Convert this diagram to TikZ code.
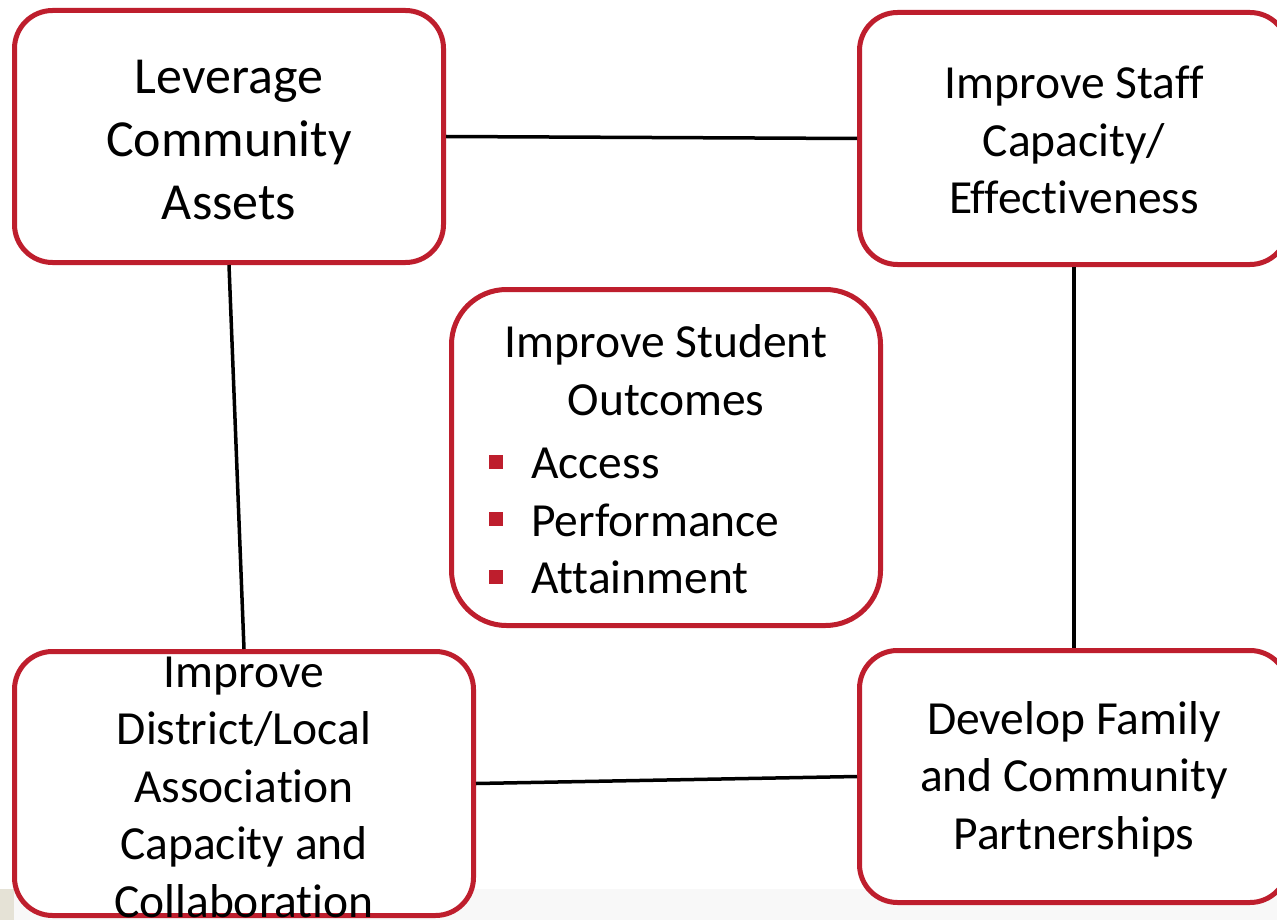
\documentclass[tikz,border=0pt]{standalone}
\usepackage{fontspec}
\setmainfont[Ligatures={NoCommon,NoDiscretionary,NoContextual}]{Carlito}
\definecolor{bred}{RGB}{190,30,45}
\definecolor{bandgrey}{RGB}{248,248,248}
\definecolor{bandbeige}{RGB}{229,226,214}
\tikzset{
  goalbox/.style={draw=bred, line width=5pt, fill=white, rounded corners=38pt, inner sep=0pt},
  bigtext/.style={align=center, inner sep=0pt, font=\fontsize{52}{63}\selectfont},
  midtext/.style={align=center, inner sep=0pt, font=\fontsize{47.5}{57.5}\selectfont},
  link/.style={draw=black, line width=3.5pt},
}
\newcommand{\redsq}{\makebox[42pt][l]{\raisebox{10pt}{\textcolor{bred}{\rule{14pt}{14pt}}}}}
\begin{document}
\begin{tikzpicture}[x=1pt,y=-1pt]
\useasboundingbox (0,0) rectangle (1277,920);
\clip (0,0) rectangle (1277,920);
\fill[white] (0,0) rectangle (1277,920);
\fill[bandgrey] (0,889) rectangle (1277,920);
\fill[bandbeige] (0,889) rectangle (14,920);

% boxes
\node[goalbox, minimum width=429pt, minimum height=252pt] (tl) at (229,136.5) {};
\node[goalbox, minimum width=428.5pt, minimum height=252pt] (tr) at (1073.75,138.5) {};
\node[goalbox, rounded corners=55pt, minimum width=429pt, minimum height=336pt] (ctr) at (666,457.5) {};
\node[goalbox, minimum width=459pt, minimum height=264pt] (bl) at (244,783.5) {};
\node[goalbox, minimum width=428.5pt, minimum height=252pt] (br) at (1073.75,776.5) {};

% connectors
\draw[link] (tl.east) -- (tr.west);
\draw[link] (tl.south) -- (bl.north);
\draw[link] (tr.south) -- (br.north);
\draw[link] (bl.east) -- (br.west);

% texts
\node[bigtext] (tltext) at (229,140) {Leverage\\Community\\Assets};
\node[midtext] (trtext) at (1074,140) {Improve Sta{}f{}f\\Capacity/\\Ef{}fectiveness};
\node[midtext] (bltext) at (244,787) {Improve\\District/Local\\Association\\Capacity and\\Collaboration};
\node[midtext] (brtext) at (1074,779) {Develop Family\\and Community\\Partnerships};
\node[midtext] (ctitle) at (666,370) {Improve Student\\Outcomes};
\node[midtext, align=left, anchor=west] (clist) at (489,521) {\redsq Access\\\redsq Performance\\\redsq Attainment};
\end{tikzpicture}
\end{document}
